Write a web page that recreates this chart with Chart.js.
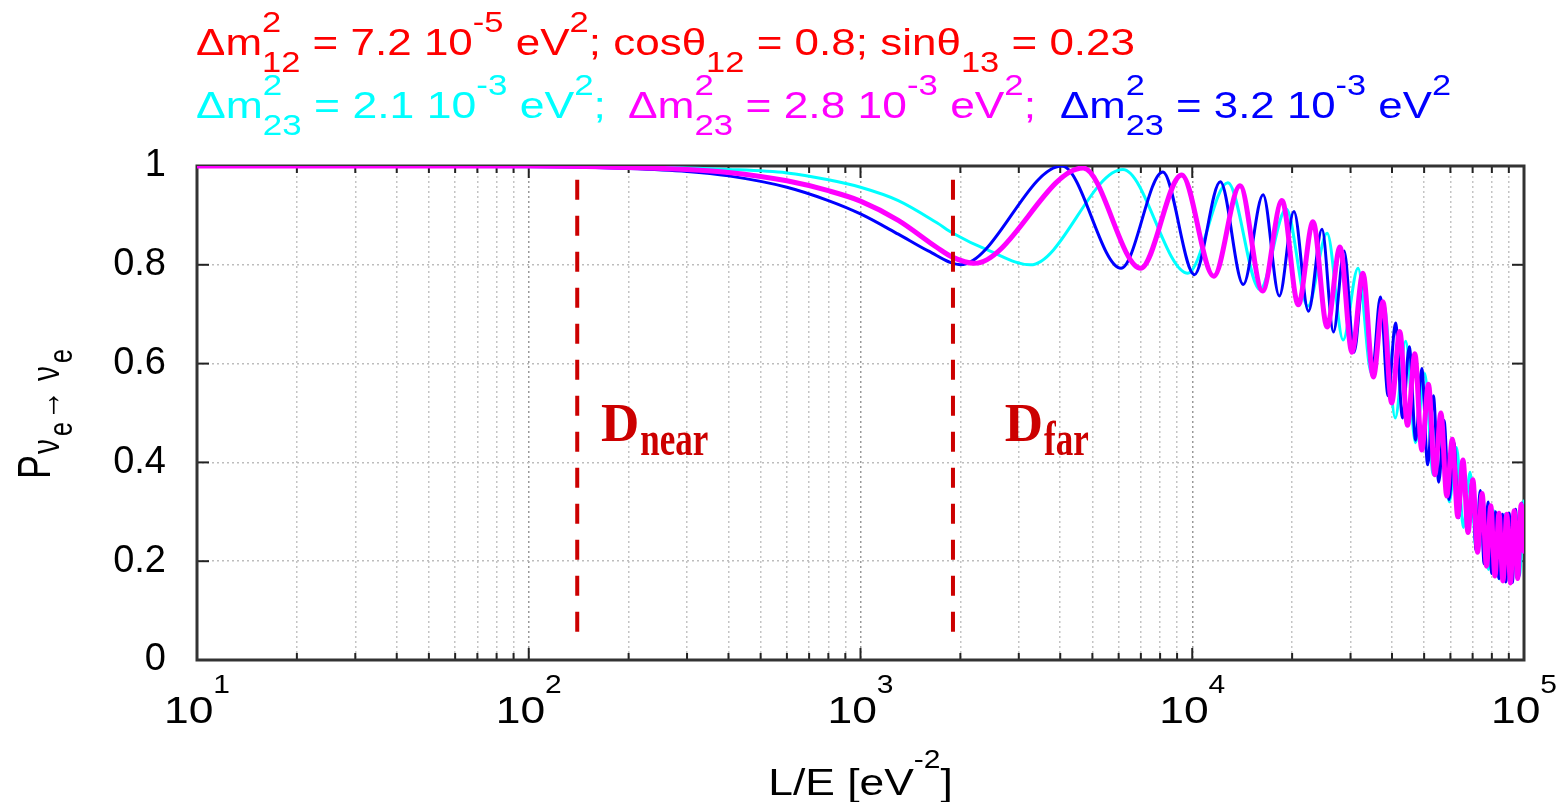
<!DOCTYPE html>
<html><head><meta charset="utf-8">
<script src="https://cdn.jsdelivr.net/npm/chart.js@4.4.1/dist/chart.umd.min.js"></script>
<style>
html,body{margin:0;padding:0;background:#fff;}
#wrap{position:relative;width:1561px;height:802px;overflow:hidden;background:#fff}
#c{position:absolute;left:0;top:0}
.t{position:absolute;left:0;top:0;white-space:nowrap;font-family:"Liberation Sans",Arial,Helvetica,sans-serif;font-size:37px;line-height:40px;transform-origin:0 0}
.u{font-size:29px;position:relative;top:-23px}
.d{font-size:29px;position:relative;top:17px}
.stk{display:inline-block;position:relative;font-size:29px}
.stk .a{position:absolute;left:0;top:-23px}
.stk .b{position:relative;top:17px}
</style></head>
<body>
<div id="wrap">
<canvas id="c" width="1561" height="802"></canvas>
<div class="t" data-l="196" data-r="1135" data-b="55" style="color:#ff0000">Δm<span class="stk"><span class="a">2</span><span class="b">12</span></span> = 7.2 10<span class="u">-5</span> eV<span class="u">2</span>; cosθ<span class="d">12</span> = 0.8; sinθ<span class="d">13</span> = 0.23</div>
<div class="t" data-l="196" data-r="606" data-b="118" style="color:#00ffff">Δm<span class="stk"><span class="a">2</span><span class="b">23</span></span> = 2.1 10<span class="u">-3</span> eV<span class="u">2</span>;</div>
<div class="t" data-l="628" data-r="1036" data-b="118" style="color:#ff00ff">Δm<span class="stk"><span class="a">2</span><span class="b">23</span></span> = 2.8 10<span class="u">-3</span> eV<span class="u">2</span>;</div>
<div class="t" data-l="1060" data-r="1451" data-b="118" style="color:#0000ff">Δm<span class="stk"><span class="a">2</span><span class="b">23</span></span> = 3.2 10<span class="u">-3</span> eV<span class="u">2</span></div>
</div>
<script>
// ---- data (L/E in eV^-2, survival probability) ----
const majorLE = [10, 100, 1000, 10000, 100000];
const yTickVals = [0, 0.2, 0.4, 0.6, 0.8, 1];
const yTickLabels = ['0', '0.2', '0.4', '0.6', '0.8', '1'];

const cyanCurve = [[10,1],[200,0.998],[400,0.993],[600,0.986],[800,0.972],[1000,0.957],[1300,0.93],[1700,0.885],[1900,0.864],[2450,0.828],[3250,0.80],
 [6180,0.993],[9700,0.783],[12800,0.966],[16000,0.75],[19200,0.913],[22300,0.716],[25500,0.864],[28500,0.648],[31600,0.793],[34700,0.58],
 [37800,0.72],[40900,0.49],[44000,0.645],[47100,0.44],[50200,0.58],[53300,0.375],[56400,0.495],[59500,0.32],[62600,0.43],[65700,0.268],
 [68800,0.38],[71900,0.22],[75000,0.335],[78100,0.183],[81200,0.302],[84300,0.164],[87400,0.295],[90500,0.156],[93600,0.302],[96700,0.17],[100000,0.322]];

const blueCurve = [[10,1],[100,0.999],[200,0.995],[300,0.989],[400,0.98],[600,0.957],[800,0.93],[1000,0.903],[1300,0.862],[1600,0.828],[2000,0.80],
 [4050,1.0],[6100,0.793],[8150,0.988],[10150,0.78],[12150,0.968],[14250,0.76],[16350,0.942],[18300,0.737],[20250,0.908],[22400,0.706],
 [24600,0.872],[26650,0.664],[28700,0.828],[30750,0.623],[32800,0.776],[34850,0.58],[36900,0.735],[38950,0.535],[41000,0.682],[43050,0.49],
 [45100,0.634],[47150,0.445],[49200,0.59],[51250,0.395],[53300,0.535],[55350,0.36],[57400,0.485],[59450,0.325],[61500,0.44],[63550,0.288],
 [65600,0.40],[67650,0.258],[69700,0.365],[71750,0.222],[73800,0.343],[75850,0.195],[77900,0.32],[79950,0.175],[82000,0.30],[84050,0.165],
 [86100,0.295],[88150,0.158],[90200,0.297],[92250,0.157],[94300,0.305],[96350,0.168],[98400,0.318],[100000,0.25]];

const magentaCurve = [[10,1],[100,1],[200,0.997],[300,0.993],[400,0.987],[600,0.97],[800,0.95],[1000,0.929],[1300,0.89],[1700,0.835],[1900,0.815],[2200,0.803],
 [4690,0.996],[6990,0.793],[9290,0.982],[11610,0.777],[13930,0.96],[16290,0.747],[18640,0.93],[20880,0.719],[23120,0.887],[25500,0.674],
 [27890,0.836],[30300,0.623],[32700,0.783],[35140,0.573],[37580,0.725],[39900,0.52],[42230,0.665],[44550,0.475],[46880,0.62],[49200,0.425],
 [51530,0.558],[53850,0.375],[56180,0.50],[58500,0.332],[60830,0.447],[63150,0.29],[65480,0.405],[67800,0.258],[70130,0.365],[72450,0.218],
 [74780,0.337],[77100,0.19],[79430,0.312],[81750,0.17],[84080,0.297],[86400,0.16],[88730,0.295],[91050,0.156],[93380,0.302],[95700,0.165],[98030,0.315],[100000,0.22]];

const nearLE = 140, farLE = 1900;
const dashSpanP = [0.972, 0.034];
const labelNearLE = 165, labelFarLE = 2720, labelP = 0.443;

// ---- title fitting ----
document.querySelectorAll('.t').forEach(el=>{
  const L=+el.dataset.l, R=+el.dataset.r, B=+el.dataset.b;
  el.style.left=L+'px'; el.style.top=(B-32)+'px';
  const w=el.getBoundingClientRect().width;
  el.style.transform='scaleX('+((R-L)/w)+')';
});

const gridLE=[];
majorLE.slice(0,-1).forEach(m=>{for(let k=1;k<10;k++) gridLE.push(m*k);});
gridLE.push(majorLE[majorLE.length-1]);

const SANS='"Liberation Sans", Arial, sans-serif';
const SERIF='"Liberation Serif", "Times New Roman", serif';

const deco={
  id:'deco',
  beforeDatasetsDraw(chart){
    const {ctx,chartArea:a,scales:{x,y}}=chart;
    ctx.save();
    const ln=(x1,y1,x2,y2)=>{ctx.beginPath();ctx.moveTo(x1,y1);ctx.lineTo(x2,y2);ctx.stroke();};
    ctx.strokeStyle='#222'; ctx.lineWidth=2;
    gridLE.forEach(v=>{const px=x.getPixelForValue(v);const L=majorLE.includes(v)?12:7;
      ln(px,a.bottom,px,a.bottom-L); ln(px,a.top,px,a.top+L);});
    yTickVals.forEach(v=>{const py=y.getPixelForValue(v);
      ln(a.left,py,a.left+12,py); ln(a.right,py,a.right-12,py);});
    ctx.strokeStyle='#333'; ctx.lineWidth=3;
    ctx.strokeRect(a.left,a.top,a.right-a.left,a.bottom-a.top);
    ctx.restore();
  },
  afterDraw(chart){
    const {ctx,chartArea:a,scales:{x,y}}=chart;
    ctx.save();
    ctx.fillStyle='#000'; ctx.textBaseline='alphabetic'; ctx.textAlign='left';
    // x tick labels 10^k
    majorLE.forEach(v=>{
      const k=String(Math.round(Math.log10(v)));
      const px=x.getPixelForValue(v);
      const sx=1.2;
      ctx.font='37px '+SANS; const w1=ctx.measureText('10').width*sx;
      ctx.font='25px '+SANS; const w2=ctx.measureText(k).width*sx;
      const s=px-(w1+w2)/2;
      ctx.save(); ctx.translate(s,723); ctx.scale(sx,1); ctx.font='37px '+SANS; ctx.fillText('10',0,0); ctx.restore();
      ctx.save(); ctx.translate(s+w1,693); ctx.scale(sx,1); ctx.font='25px '+SANS; ctx.fillText(k,0,0); ctx.restore();
    });
    // x axis title
    {
      const sx=1.2;
      ctx.font='37px '+SANS; const a1=ctx.measureText('L/E [eV').width*sx;
      ctx.font='25px '+SANS; const a2=ctx.measureText('-2').width*sx;
      ctx.font='37px '+SANS; const a3=ctx.measureText(']').width*sx;
      const cx=(a.left+a.right)/2; const s=cx-(a1+a2+a3)/2;
      ctx.save(); ctx.translate(s,795); ctx.scale(sx,1); ctx.font='37px '+SANS; ctx.fillText('L/E [eV',0,0); ctx.restore();
      ctx.save(); ctx.translate(s+a1,768); ctx.scale(sx,1); ctx.font='25px '+SANS; ctx.fillText('-2',0,0); ctx.restore();
      ctx.save(); ctx.translate(s+a1+a2,795); ctx.scale(sx,1); ctx.font='37px '+SANS; ctx.fillText(']',0,0); ctx.restore();
    }
    // y axis title P_{nu_e -> nu_e}
    ctx.save(); ctx.translate(50,479); ctx.rotate(-Math.PI/2); ctx.scale(1,1.3);
    ctx.font='36px '+SANS; ctx.fillText('P',0,0);
    ctx.font='30px '+SANS; ctx.fillText('ν',25,7);
    ctx.font='25px '+SANS; ctx.fillText('e',43,17);
    ctx.font='bold 30px '+SANS; ctx.fillText('→',59,8);
    ctx.font='30px '+SANS; ctx.fillText('ν',98,7);
    ctx.font='25px '+SANS; ctx.fillText('e',116,17);
    ctx.restore();
    // D labels
    ctx.fillStyle='#cc0000';
    const lab=(le,txt,sub)=>{
      const px=x.getPixelForValue(le), py=y.getPixelForValue(labelP);
      ctx.save(); ctx.translate(px,py); ctx.scale(1.02,1.05); ctx.font='bold 52px '+SERIF; ctx.fillText(txt,0,0); ctx.restore();
      ctx.font='bold 52px '+SERIF; const w=ctx.measureText(txt).width*1.02;
      ctx.save(); ctx.translate(px+w+1,py+14); ctx.scale(1,1.4); ctx.font='bold 35px '+SERIF; ctx.fillText(sub,0,0); ctx.restore();
    };
    lab(labelNearLE,'D','near');
    lab(labelFarLE,'D','far');
    ctx.restore();
  }
};

const pts=arr=>arr.map(([x,y])=>({x,y}));
const common={pointRadius:0,pointHoverRadius:0,fill:false,cubicInterpolationMode:'monotone',borderJoinStyle:'round',borderCapStyle:'round'};

new Chart(document.getElementById('c'),{
  type:'line',
  data:{datasets:[
    {...common,label:'Δm²23 = 2.1e-3',data:pts(cyanCurve),borderColor:'#00ffff',borderWidth:3,order:3},
    {...common,label:'Δm²23 = 3.2e-3',data:pts(blueCurve),borderColor:'#0000ff',borderWidth:3,order:2},
    {...common,label:'Δm²23 = 2.8e-3',data:pts(magentaCurve),borderColor:'#ff00ff',borderWidth:5,order:1},
    {label:'D near',data:[{x:nearLE,y:dashSpanP[0]},{x:nearLE,y:dashSpanP[1]}],borderColor:'#cc0000',borderWidth:4,borderDash:[20,16],pointRadius:0,order:0,borderCapStyle:'butt'},
    {label:'D far',data:[{x:farLE,y:dashSpanP[0]},{x:farLE,y:dashSpanP[1]}],borderColor:'#cc0000',borderWidth:4,borderDash:[20,16],pointRadius:0,order:0,borderCapStyle:'butt'}
  ]},
  options:{
    responsive:false,maintainAspectRatio:false,animation:false,
    layout:{padding:{left:0,top:166,right:37,bottom:0}},
    plugins:{legend:{display:false},tooltip:{enabled:false}},
    scales:{
      x:{type:'logarithmic',min:majorLE[0],max:majorLE[majorLE.length-1],
        afterBuildTicks:s=>{s.ticks=gridLE.map(v=>({value:v,major:majorLE.includes(v)}));},
        ticks:{display:false},
        grid:{drawTicks:false,lineWidth:1.5,color:c=>majorLE.includes(c.tick&&c.tick.value)?'#999999':'#c4c4c4'},
        border:{display:false,dash:[2,3]},
        afterFit:s=>{s.height=142;}
      },
      y:{type:'linear',min:0,max:1,
        afterBuildTicks:s=>{s.ticks=yTickVals.map(v=>({value:v}));},
        ticks:{color:'#000',padding:31,font:{family:'"Liberation Sans", Arial, sans-serif',size:38},
          callback:(v,i)=>yTickLabels[yTickVals.indexOf(v)]},
        grid:{drawTicks:false,lineWidth:1.5,color:'#bdbdbd'},
        border:{display:false,dash:[2,3]},
        afterFit:s=>{s.width=197;}
      }
    }
  },
  plugins:[deco]
});
</script>
</body></html>
